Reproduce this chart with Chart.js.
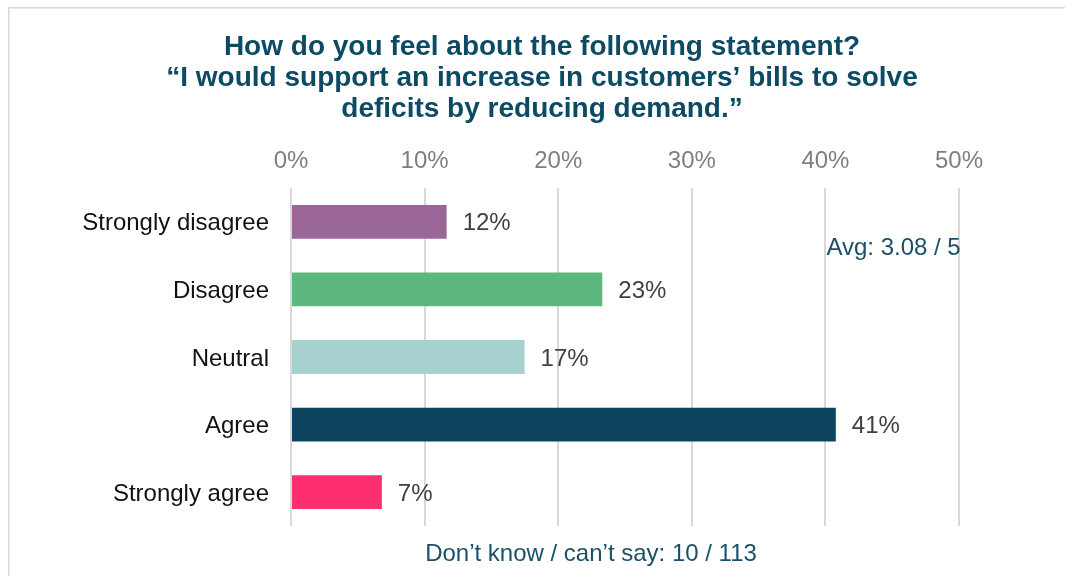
<!DOCTYPE html>
<html>
<head>
<meta charset="utf-8">
<title>Support for bill increase</title>
<script src="https://cdn.jsdelivr.net/npm/chart.js@4/dist/chart.umd.min.js"></script>
<style>
  html, body { margin: 0; padding: 0; background: #ffffff; }
  canvas { display: block; }
</style>
</head>
<body>
<canvas id="chart" width="1065" height="576"></canvas>
<script>
// Survey answers (share of respondents who gave an answer, in %)
const categories = ['Strongly disagree', 'Disagree', 'Neutral', 'Agree', 'Strongly agree'];
const shares = [11.65, 23.30, 17.48, 40.78, 6.80];
const barColors = ['#9b6799', '#5cb87f', '#a6d1cf', '#0b445c', '#ff2e6e'];
const axisTicks = [0, 10, 20, 30, 40, 50];

const titleLines = [
  'How do you feel about the following statement?',
  '\u201cI would support an increase in customers\u2019 bills to solve',
  'deficits by reducing demand.\u201d'
];
const averageNote = 'Avg: 3.08 / 5';
const dontKnowNote = 'Don\u2019t know / can\u2019t say: 10 / 113';

const FONT = '"Liberation Sans", Arial, sans-serif';

// Page layout
const PLOT_LEFT = 291;
const PLOT_TOP = 188;
const PAD_LEFT = 60;
const TITLE_CENTER = 542;
const FOOTER_CENTER = 591;

// Frame lines, title placement, value labels and the two notes
const annotations = {
  id: 'annotations',
  afterLayout(chart) {
    const t = chart.titleBlock;
    const shift = TITLE_CENTER - (t.left + t.right) / 2;
    t.left += shift;
    t.right += shift;
  },
  beforeDraw(chart) {
    const { ctx, width, height } = chart;
    ctx.save();
    ctx.fillStyle = '#d9d9d9';
    ctx.fillRect(8, 7, width - 8, 1.5);
    ctx.fillRect(8, 7, 1.5, height - 7);
    ctx.restore();
  },
  afterDatasetsDraw(chart) {
    const { ctx } = chart;
    const meta = chart.getDatasetMeta(0);
    const values = chart.data.datasets[0].data;
    ctx.save();
    ctx.font = '24px ' + FONT;
    ctx.fillStyle = '#404040';
    ctx.textAlign = 'left';
    ctx.textBaseline = 'middle';
    meta.data.forEach((bar, i) => {
      ctx.fillText(Math.round(values[i]) + '%', bar.x + 16, bar.y + 2);
    });

    const xs = chart.scales.x;
    const ys = chart.scales.y;
    ctx.fillStyle = '#1a5068';
    ctx.fillText(averageNote, xs.getPixelForValue(40) + 1, ys.getPixelForValue(0.36) + 2);
    ctx.textAlign = 'center';
    ctx.fillText(dontKnowNote, FOOTER_CENTER, chart.chartArea.bottom + 28);
    ctx.restore();
  }
};

new Chart(document.getElementById('chart'), {
  type: 'bar',
  data: {
    labels: categories,
    datasets: [{
      data: shares,
      backgroundColor: barColors,
      borderWidth: 0,
      barPercentage: 0.5,
      categoryPercentage: 1.0
    }]
  },
  options: {
    indexAxis: 'y',
    responsive: false,
    animation: false,
    devicePixelRatio: 1,
    events: [],
    layout: { padding: { left: PAD_LEFT, right: 106, top: 0, bottom: 50 } },
    plugins: {
      legend: { display: false },
      tooltip: { enabled: false },
      title: {
        display: true,
        text: titleLines,
        color: '#0d4a64',
        font: { family: FONT, size: 28, weight: 'bold', lineHeight: 1.1 },
        padding: { top: 32, bottom: 0 }
      }
    },
    scales: {
      x: {
        position: 'top',
        min: 0,
        max: 50,
        afterBuildTicks(axis) { axis.ticks = axisTicks.map(v => ({ value: v })); },
        afterFit(axis) { axis.height = PLOT_TOP - 124.4; },
        ticks: {
          callback: v => v + '%',
          color: '#7f7f7f',
          font: { family: FONT, size: 24 },
          padding: 12
        },
        grid: { color: '#d9d9d9', lineWidth: 2, drawTicks: false },
        border: { display: false }
      },
      y: {
        afterFit(axis) { axis.width = PLOT_LEFT - PAD_LEFT; },
        ticks: {
          color: '#111111',
          font: { family: FONT, size: 24 },
          padding: 22,
          labelOffset: 2
        },
        grid: { display: false, drawTicks: false },
        border: { display: false }
      }
    }
  },
  plugins: [annotations]
});
</script>
</body>
</html>
